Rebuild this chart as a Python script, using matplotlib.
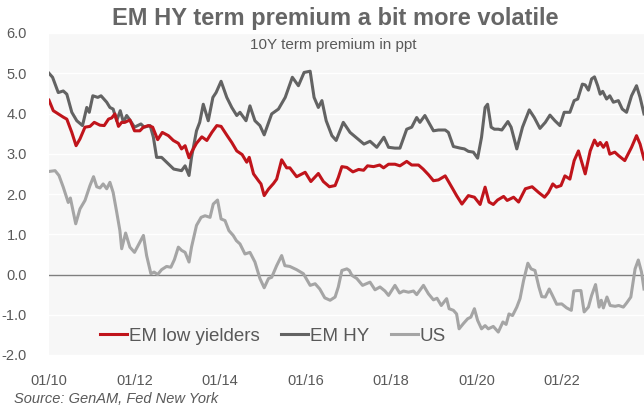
import numpy as np
import matplotlib
matplotlib.use("Agg")
import matplotlib.pyplot as plt
from matplotlib.lines import Line2D

plt.rcParams['font.family'] = ['Liberation Sans', 'DejaVu Sans']

# x = months since Jan 2010
hy_m = [0, 1, 2.6, 4, 5, 6.4, 7.8, 9.4, 10.6, 11.3, 12.3, 13.7, 14.6, 16.2, 17.1, 18, 19, 20, 20.9,
        21.8, 22.7, 24, 25.8, 26.7, 28.4, 29.3, 30.2, 31.6, 33, 35, 37.2, 38.2, 39.3, 40, 41.4, 42.3,
        43.3, 44.7, 46, 46.9, 48.3, 49.9, 51.3, 52.7, 53.6, 55.3, 56.4, 57.8, 59.2, 60.4, 62.5, 64.4,
        66.3, 68.3, 70, 71.6, 73.3, 74.4, 75.6, 76.6, 77.8, 79.4, 80.6, 82.6, 84.5, 86.4, 88.4, 90.1,
        92, 94, 95.3, 97.1, 98.5, 100.4, 101.8, 103.2, 104.1, 105.5, 107.9, 109.3, 111.2, 112.1,
        113.5, 115.4, 116.6, 117.7, 119.1, 120.3, 121.4, 122.4, 123.1, 124.1, 125, 126.1, 127.1,
        128.8, 129.7, 131.3, 132.9, 134.8, 136.2, 137.8, 139.3, 140.6, 142, 143.4, 144.6, 146.2,
        147.4, 148.4, 149.7, 150.5, 151.4, 152.3, 153.1, 154, 154.7, 155.4, 156.5, 157.4, 158.4,
        159.8, 160.9, 162.1, 163.5, 164.9, 165.9, 167]
hy_v = [5.0, 4.9, 4.52, 4.56, 4.48, 4.03, 3.82, 3.70, 4.15, 4.03, 4.44, 4.40, 4.44, 4.28, 4.15,
        4.11, 3.82, 4.07, 3.78, 3.95, 3.84, 3.66, 3.74, 3.66, 3.70, 3.41, 2.91, 2.91, 2.79, 2.62,
        2.58, 2.70, 2.46, 2.91, 3.57, 3.78, 4.23, 3.82, 4.40, 4.52, 4.80, 4.40, 4.15, 3.95, 4.03,
        3.82, 4.19, 3.82, 3.70, 3.47, 3.99, 4.11, 4.40, 4.90, 4.69, 5.02, 5.05, 4.40, 4.15, 4.32,
        3.82, 3.45, 3.33, 3.78, 3.53, 3.39, 3.24, 3.31, 3.16, 3.41, 3.16, 3.14, 3.14, 3.61, 3.66,
        3.90, 3.78, 3.95, 3.57, 3.59, 3.59, 3.53, 3.18, 3.14, 3.12, 3.06, 3.04, 2.89, 3.41, 4.15,
        4.23, 3.66, 3.61, 3.61, 3.59, 3.80, 3.66, 3.12, 3.66, 4.09, 3.90, 3.63, 3.78, 3.96, 3.82,
        3.70, 4.03, 4.03, 4.32, 4.36, 4.73, 4.71, 4.58, 4.86, 4.91, 4.69, 4.48, 4.55, 4.36, 4.44,
        4.28, 4.32, 4.11, 4.03, 4.44, 4.69, 4.40, 3.99]

low_m = [0, 1.2, 2.6, 4, 5, 6.4, 7.6, 8.7, 10.1, 11.5, 12.7, 14.3, 15.5, 16.7, 17.6, 18.5, 19.5,
         20.4, 21.3, 22.7, 24, 25.5, 26.5, 27.9, 29.1, 30.5, 31.8, 33.5, 34.9, 36.3, 37.2, 38.2,
         39.3, 40, 41.4, 42.9, 44.3, 45.7, 47.1, 48.3, 50, 51.3, 52.7, 54.2, 55.5, 56.2, 57.4, 58.8,
         59.5, 60.4, 61.6, 63, 63.9, 65.3, 66.7, 67.6, 69.5, 71.9, 73.5, 75.6, 77, 78.7, 80.3,
         81.2, 82.2, 83.6, 85.3, 86.9, 88.3, 89.4, 91.1, 92.8, 93.9, 95.3, 97.1, 98.5, 100.4,
         101.8, 103.7, 105, 106.5, 107.9, 109.3, 111.2, 112, 113.5, 114.4, 115.9, 117.7, 119.4,
         121, 122.4, 123.5, 124.7, 125.9, 127.6, 128.6, 130.4, 131.8, 133.7, 135.6, 137.4, 139.1,
         140.2, 141.4, 142.4, 143.7, 144.8, 146.2, 147.4, 148.6, 149.7, 150.5, 151.9, 153.1, 154,
         154.7, 155.6, 156.5, 157.4, 158.8, 159.9, 161.6, 163.5, 164.9, 165.9, 167]
low_v = [4.33, 4.07, 3.99, 3.91, 3.86, 3.53, 3.20, 3.37, 3.66, 3.68, 3.78, 3.71, 3.70, 3.86, 3.89,
         3.99, 3.68, 3.78, 3.78, 3.84, 3.57, 3.57, 3.66, 3.70, 3.66, 3.35, 3.53, 3.45, 3.33, 3.26,
         3.12, 3.20, 2.90, 3.04, 3.26, 3.42, 3.33, 3.53, 3.70, 3.68, 3.45, 3.28, 3.07, 2.98, 2.79,
         2.91, 2.50, 2.33, 2.25, 1.96, 2.12, 2.26, 2.37, 2.85, 2.65, 2.65, 2.43, 2.54, 2.31, 2.51,
         2.31, 2.18, 2.21, 2.41, 2.68, 2.66, 2.55, 2.61, 2.59, 2.70, 2.68, 2.72, 2.65, 2.74, 2.74,
         2.70, 2.81, 2.72, 2.72, 2.62, 2.48, 2.33, 2.35, 2.45, 2.33, 2.10, 1.96, 1.75, 1.96, 1.92,
         1.74, 2.17, 1.80, 1.74, 1.85, 1.94, 1.84, 1.92, 1.80, 2.13, 2.18, 2.04, 1.92, 2.04, 2.25,
         2.17, 2.21, 2.45, 2.37, 2.83, 3.07, 2.74, 2.50, 3.07, 3.34, 3.20, 3.28, 3.16, 3.28, 2.99,
         3.04, 2.95, 2.83, 3.16, 3.45, 3.24, 2.87]

us_m = [0, 1.7, 2.8, 4, 5.4, 6, 7.5, 8.7, 10.1, 11.5, 12.5, 13.4, 14.3, 15.2, 16.2, 17.1, 18, 19,
        19.9, 20.4, 21.5, 22.7, 24, 25.5, 26.5, 27.4, 28.6, 29.5, 30.5, 31.6, 33, 34.2, 35.2, 36.3,
        37.2, 38.2, 39.3, 40, 41.4, 42.7, 43.8, 45.2, 46.1, 47.3, 48.3, 49.4, 50.5, 51.7, 52.6,
        53.6, 55, 56.4, 57.8, 59.2, 60.4, 61.6, 62.5, 63.9, 65.3, 66.2, 67.6, 69.5, 71.4, 73.3,
        74.7, 76, 77.4, 78.9, 80.3, 81.2, 82.2, 83.6, 84.3, 85, 86.4, 88, 90.1, 91.5, 92.9, 94.3,
        95.3, 97.1, 98.4, 99.5, 100.9, 102.3, 103.2, 105.1, 106.5, 107.9, 108.9, 110.1, 111.6,
        112.3, 113.5, 114.4, 115.1, 116.3, 117.5, 118.4, 119.4, 120.3, 121.4, 122.4, 123.3, 124.7,
        126.1, 127.4, 128.3, 129.1, 130.1, 131.3, 132.2, 133.2, 134.4, 135.3, 136.4, 137.5, 138.3,
        139.3, 140.4, 141.3, 142.5, 143.9, 145.3, 146.6, 147.3, 148.2, 149.3, 150.2, 151.4, 152.3,
        153.4, 154.4, 155, 155.6, 156.6, 157.5, 158.9, 159.9, 161.2, 162.1, 163.3, 164.5, 165.4,
        166.3, 167]
us_v = [2.56, 2.58, 2.46, 2.17, 1.79, 1.90, 1.26, 1.63, 1.84, 2.21, 2.43, 2.18, 2.15, 2.25, 2.13,
        2.29, 2.04, 1.55, 1.09, 0.64, 1.03, 0.68, 0.55, 0.80, 0.97, 0.47, 0.02, 0.06, 0.00, 0.12,
        0.20, 0.18, 0.37, 0.68, 0.60, 0.55, 0.31, 0.68, 1.22, 1.42, 1.46, 1.42, 1.75, 1.85, 1.38,
        1.34, 1.09, 0.97, 0.84, 0.76, 0.51, 0.55, 0.31, -0.10, -0.33, -0.10, -0.07, 0.22, 0.47,
        0.22, 0.20, 0.12, 0.02, -0.27, -0.23, -0.36, -0.58, -0.64, -0.56, -0.31, 0.10, 0.14, 0.10,
        -0.02, -0.10, -0.27, -0.19, -0.38, -0.31, -0.41, -0.52, -0.27, -0.46, -0.41, -0.44, -0.41,
        -0.50, -0.27, -0.48, -0.63, -0.59, -0.77, -0.60, -0.85, -0.89, -0.98, -1.35, -1.22, -1.10,
        -1.06, -0.85, -1.14, -1.35, -1.27, -1.35, -1.29, -1.43, -1.18, -1.24, -0.98, -1.02, -0.81,
        -0.60, -0.15, 0.28, 0.14, 0.10, -0.31, -0.55, -0.56, -0.36, -0.52, -0.74, -0.73, -0.83,
        -0.89, -0.41, -0.40, -0.40, -0.93, -0.81, -0.52, -0.25, -0.81, -0.64, -0.83, -0.56, -0.77,
        -0.79, -0.77, -0.81, -0.71, -0.56, 0.14, 0.36, 0.06, -0.36]

tick_labels = ['01/10', '01/12', '01/14', '01/16', '01/18', '01/20', '01/22']

red = '#c0141b'
dark = '#636363'
light = '#a5a5a5'
txt = '#595959'

fig = plt.figure(figsize=(6.44, 4.07), dpi=100)
ax = fig.add_axes([49/644, 1 - 355/407, 1 - 49/644, 322/407])
ax.set_facecolor('#f7f7f7')

ax.plot(low_m, low_v, color=red, lw=2.2, solid_joinstyle='round', zorder=4)
ax.plot(hy_m, hy_v, color=dark, lw=2.2, solid_joinstyle='round', zorder=3)
ax.plot(us_m, us_v, color=light, lw=2.2, solid_joinstyle='round', zorder=2)

ax.set_xlim(0, 167)
ax.set_ylim(-2, 6)
ax.set_yticks(np.arange(-2, 6.1, 1))
ax.set_yticklabels(['%.1f' % v for v in np.arange(-2, 6.1, 1)])
ax.set_xticks(np.arange(0, 167, 24))
ax.set_xticklabels(tick_labels)
ax.grid(axis='y', color='white', lw=1.0)
ax.set_axisbelow(True)
ax.axhline(0, color='#7f7f7f', lw=1.0, zorder=1)
for s in ax.spines.values():
    s.set_visible(False)
ax.tick_params(length=0, labelsize=10.5, colors=txt)
ax.tick_params(axis='x', pad=14)
ax.tick_params(axis='y', pad=16)

handles = [Line2D([], [], color=red, lw=2.2),
           Line2D([], [], color=dark, lw=2.2),
           Line2D([], [], color=light, lw=2.2)]
ax.legend(handles, ['EM low yielders', 'EM HY', 'US'], loc='center left',
          bbox_to_anchor=((100 - 49) / 595, 19 / 322), ncol=3, frameon=False, fontsize=13.5,
          handlelength=1.45, handletextpad=0.08, columnspacing=1.15, labelcolor=txt,
          borderpad=0, borderaxespad=0)

fig.text(335/644, 1 - 19/407, 'EM HY term premium a bit more volatile', ha='center', va='center',
         fontsize=17, fontweight='bold', color='#666666')
fig.text(333/644, 1 - 45/407, '10Y term premium in ppt', ha='center', va='center',
         fontsize=11, color=txt)
fig.text(14/644, 1 - 399/407, 'Source: GenAM, Fed New York', ha='left', va='center',
         fontsize=10.5, style='italic', color=txt)

fig.savefig('out.png', dpi=100)
